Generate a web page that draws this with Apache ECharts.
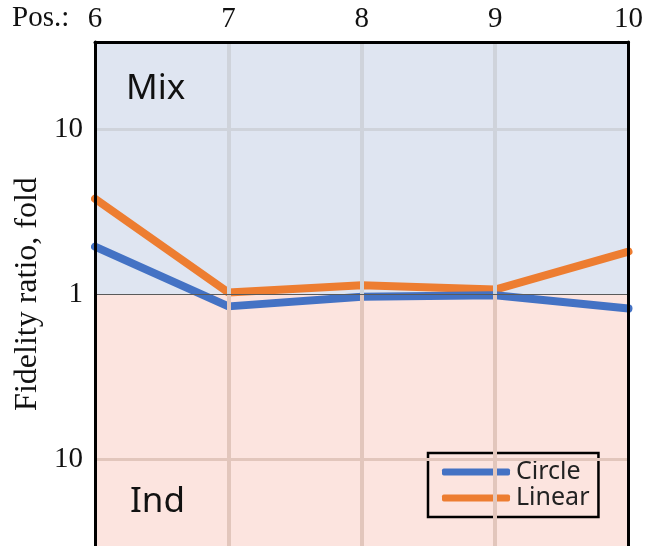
<!DOCTYPE html>
<html>
<head>
<meta charset="utf-8">
<script src="https://cdn.jsdelivr.net/npm/echarts@6/dist/echarts.min.js"></script>
<style>
  html, body { margin: 0; padding: 0; background: #fff; }
  #chart { width: 646px; height: 546px; }
</style>
</head>
<body>
<div id="chart"></div>
<script>
// Positions along the construct
const positions = ['6', '7', '8', '9', '10'];
// log10 of the fidelity ratio: > 0 toward "Mix", < 0 toward "Ind"
const circleLog = [0.29, -0.072, -0.014, -0.004, -0.085];
const linearLog = [0.58, 0.012, 0.056, 0.03, 0.26];
// y ticks (log10 units) and the fold labels printed next to them
const yTickValues = [-1, 0, 1];
const yTickLabels = ['10', '1', '10'];
const yMin = -1.524;
const yMax = 1.53;

const serif = '"Liberation Serif", "Times New Roman", serif';
const sans = '"Noto Sans", "DejaVu Sans", sans-serif';

const mixBg = '#dfe5f1';
const indBg = '#fce4df';
const gridMix = '#cfd3db';
const gridInd = '#e2c6bc';

// vertical grid segments at the inner positions, one piece per shaded half
const vLines = [];
positions.slice(1, -1).forEach(p => {
  vLines.push([{ coord: [p, 0], lineStyle: { color: gridMix } }, { coord: [p, yMax] }]);
  vLines.push([{ coord: [p, yMin], lineStyle: { color: gridInd } }, { coord: [p, 0] }]);
});
// horizontal grid at ±1 decade and the dark line at ratio 1
const first = positions[0];
const last = positions[positions.length - 1];
const hLines = [
  [{ coord: [first, 1], lineStyle: { color: gridMix, width: 3 } }, { coord: [last, 1] }],
  [{ coord: [first, -1], lineStyle: { color: gridInd, width: 3 } }, { coord: [last, -1] }],
  [{ coord: [first, 0], lineStyle: { color: '#5a5a5a', width: 1.2 } }, { coord: [last, 0] }]
];

const chart = echarts.init(document.getElementById('chart'), null, { renderer: 'canvas' });

chart.setOption({
  animation: false,
  backgroundColor: '#ffffff',
  grid: { left: 95, right: 16, top: 42, bottom: -3, containLabel: false },
  xAxis: {
    type: 'category',
    data: positions,
    position: 'top',
    boundaryGap: false,
    z: 10,
    axisLine: { show: true, onZero: false, lineStyle: { color: '#000', width: 3 } },
    axisTick: { show: false },
    splitLine: { show: false },
    axisLabel: { fontFamily: serif, fontSize: 29, color: '#111', margin: 8 }
  },
  yAxis: [
    {
      type: 'value',
      min: yMin,
      max: yMax,
      z: 10,
      name: 'Fidelity ratio, fold',
      nameLocation: 'middle',
      nameGap: 50,
      nameRotate: 90,
      nameTextStyle: { fontFamily: serif, fontSize: 32, color: '#111' },
      axisLine: { show: true, onZero: false, lineStyle: { color: '#000', width: 3 } },
      axisTick: { show: false },
      splitLine: { show: false },
      axisLabel: {
        customValues: yTickValues,
        fontFamily: serif, fontSize: 29, color: '#111', margin: 12,
        formatter: v => yTickLabels[yTickValues.indexOf(Math.round(v))]
      }
    },
    {
      type: 'value',
      min: yMin,
      max: yMax,
      position: 'right',
      z: 10,
      axisLine: { show: true, onZero: false, lineStyle: { color: '#000', width: 3 } },
      axisTick: { show: false },
      axisLabel: { show: false },
      splitLine: { show: false }
    }
  ],
  legend: {
    data: ['Circle', 'Linear'],
    orient: 'vertical',
    left: 428,
    top: 453,
    padding: [6, 9, 6, 14],
    itemGap: 0,
    itemWidth: 68,
    itemHeight: 7,
    icon: 'roundRect',
    borderColor: '#000',
    borderWidth: 2.5,
    textStyle: { fontFamily: sans, fontSize: 25, lineHeight: 26, color: '#222', padding: [0, 0, 0, 1] }
  },
  graphic: [
    { type: 'text', left: 12, top: 4, style: { text: 'Pos.:', font: '29px ' + serif, fill: '#111' } },
    { type: 'text', left: 126, top: 72, z: 5, style: { text: 'Mix', font: '35px ' + sans, fill: '#111' } },
    { type: 'text', left: 130, top: 485, z: 5, style: { text: 'Ind', font: '35px ' + sans, fill: '#111' } }
  ],
  series: [
    {
      name: 'background',
      type: 'line',
      data: [],
      z: 1,
      silent: true,
      markArea: {
        silent: true,
        data: [
          [{ yAxis: 0, itemStyle: { color: mixBg } }, { yAxis: yMax }],
          [{ yAxis: yMin, itemStyle: { color: indBg } }, { yAxis: 0 }]
        ]
      },
      markLine: {
        silent: true,
        symbol: ['none', 'none'],
        label: { show: false },
        lineStyle: { type: 'solid', width: 4 },
        data: vLines.concat(hLines)
      }
    },
    {
      name: 'Linear',
      type: 'line',
      data: linearLog,
      z: 3,
      symbol: 'none',
      color: '#ed7d31',
      lineStyle: { width: 8, cap: 'round', join: 'round', color: '#ed7d31' }
    },
    {
      name: 'Circle',
      type: 'line',
      data: circleLog,
      z: 4,
      symbol: 'none',
      color: '#4472c4',
      lineStyle: { width: 8, cap: 'round', join: 'round', color: '#4472c4' }
    }
  ]
});
</script>
</body>
</html>
